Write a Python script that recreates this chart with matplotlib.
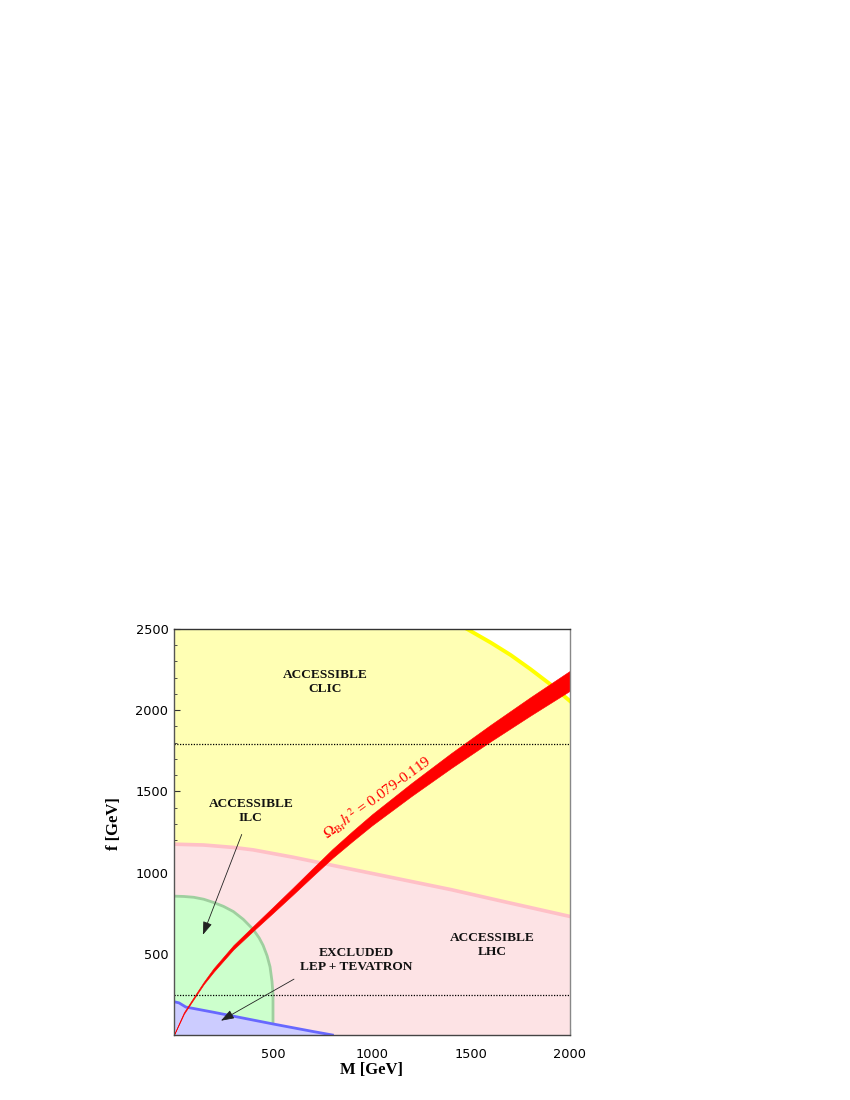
import matplotlib
matplotlib.use("Agg")
import matplotlib.pyplot as plt
import numpy as np

plt.rcParams['mathtext.fontset'] = 'stix'

# ---------------- data ----------------
# CLIC reach boundary (yellow)
clic_m = [0, 500, 1000, 1300, 1400, 1480, 1600, 1700, 1800, 1900, 2000]
clic_f = [2949, 2901, 2753, 2630, 2551, 2500, 2416, 2340, 2253, 2160, 2056]

# LHC reach boundary (pink)
lhc_m = [0, 150, 300, 400, 600, 900, 1200, 1400, 1660, 2000]
lhc_f = [1175, 1170, 1155, 1140, 1095, 1020, 945, 895, 823, 730]

# ILC reach boundary (green)
ilc_m = [0, 50, 100, 150, 200, 250, 300, 350, 400, 430, 450, 470, 485, 495, 500, 500]
ilc_f = [855, 853, 848, 836, 816, 792, 760, 712, 650, 598, 552, 488, 420, 330, 250, 0]

# LEP + Tevatron exclusion (blue)
lep_m = [0, 25, 60, 100, 200, 300, 400, 500, 600, 700, 800]
lep_f = [205, 198, 172, 163, 140, 116, 92, 68, 45, 22, 0]

# relic density band Omega h^2 = 0.079-0.119 (red)
band_m  = [0, 50, 100, 150, 175, 200, 300, 400, 500, 600, 700, 800, 900, 1000, 1200, 1400, 1600, 1800, 2000]
band_lo = [0, 130, 222, 313, 351, 389, 527, 641, 752, 864, 978, 1090, 1192, 1291, 1472, 1644, 1809, 1967, 2120]
band_hi = [4, 140, 234, 327, 369, 411, 553, 671, 788, 906, 1026, 1145, 1254, 1359, 1552, 1736, 1911, 2080, 2243]

# horizontal dotted reference lines
hlines_f = [1790, 248]

x_ticks = [500, 1000, 1500, 2000]
y_ticks = [500, 1000, 1500, 2000, 2500]

# ---------------- figure ----------------
fig = plt.figure(figsize=(8.5, 11), dpi=100)
ax = fig.add_axes([174/850, 65/1100, 396/850, 406/1100])
ax.set_xlim(0, 2000)
ax.set_ylim(0, 2500)
ax.set_facecolor('white')

# CLIC (yellow)
ax.fill_between(clic_m, 0, clic_f, color='#FFFFB4', lw=0, zorder=1)
ax.plot(clic_m, clic_f, color='#FFFF00', lw=2.8, zorder=1.1)

# LHC (pink)
ax.fill_between(lhc_m, 0, lhc_f, color='#FDE3E5', lw=0, zorder=2)
ax.plot(lhc_m, lhc_f, color='#FFC0C6', lw=2.6, zorder=2.1)

# ILC (green)
ax.fill(list(ilc_m) + [0], list(ilc_f) + [0], facecolor='#CCFFCC', edgecolor='none', zorder=3)
ax.plot(ilc_m, ilc_f, color='#9FCF9F', lw=2, zorder=3.1)

# LEP + Tevatron (blue)
ax.fill_between(lep_m, 0, lep_f, color='#CCCCFF', lw=0, zorder=4)
ax.plot(lep_m, lep_f, color='#6868FF', lw=2, zorder=4.1)

# relic band
ax.fill_between(band_m, band_lo, band_hi, facecolor='#FF0000', edgecolor='#FF0000', lw=0.4, zorder=6)

# dotted lines
for fv in hlines_f:
    ax.axhline(fv, color='black', lw=0.9, ls=(0, (1, 1.2)), zorder=7)

# labels
lab_kw = dict(ha='center', va='center', fontsize=9.6, fontweight='bold',
              family='Liberation Serif', color='#111111', linespacing=1.2, zorder=8)
ax.text(763, 2173, 'ACCESSIBLE\nCLIC', **lab_kw)
ax.text(388, 1378, 'ACCESSIBLE\nILC', **lab_kw)
ax.text(921, 464, 'EXCLUDED\nLEP + TEVATRON', **lab_kw)
ax.text(1609, 552, 'ACCESSIBLE\nLHC', **lab_kw)

ax.text(1024, 1461, r'$\Omega_{\mathrm{Br}}h^{2}$ = 0.079-0.119', rotation=36,
        rotation_mode='anchor', ha='center', va='center', color='red',
        fontsize=11, family='Liberation Serif', zorder=8)

arrow_kw = dict(arrowstyle='-|>,head_length=0.8,head_width=0.28', color='#222222',
                lw=0.6, shrinkA=0, shrinkB=0)
ax.annotate('', xy=(146, 617), xytext=(342, 1235), arrowprops=arrow_kw, zorder=9)
ax.annotate('', xy=(237, 88), xytext=(606, 344), arrowprops=arrow_kw, zorder=9)

# axes styling
ax.set_xticks(x_ticks)
ax.set_yticks(y_ticks)
ax.set_xticks(np.arange(0, 2001, 100), minor=True)
ax.set_yticks(np.arange(0, 2501, 100), minor=True)
ax.tick_params(which='both', direction='in', top=False, right=False, color='#333333')
ax.tick_params(which='major', length=4.5, width=0.8)
ax.tick_params(which='minor', length=2.2, width=0.6)
ax.tick_params(axis='x', which='major', pad=9, labelsize=9.3)
ax.tick_params(axis='y', which='major', pad=4, labelsize=9.3)
for lab in ax.get_xticklabels() + ax.get_yticklabels():
    lab.set_family('DejaVu Sans')

ax.spines['left'].set_color('#555555')
ax.spines['bottom'].set_color('#444444')
ax.spines['top'].set_color('#333333')
ax.spines['right'].set_color('#888888')
for s in ax.spines.values():
    s.set_linewidth(1.0)
    s.set_zorder(10)

ax.set_xlabel('M [GeV]', fontsize=12, fontweight='bold', family='Liberation Serif')
ax.set_ylabel('f [GeV]', fontsize=12, fontweight='bold', family='Liberation Serif')
ax.xaxis.set_label_coords(0.5, -0.0665)
ax.yaxis.set_label_coords(-0.131, 0.52)

fig.savefig('out.png', dpi=100)
